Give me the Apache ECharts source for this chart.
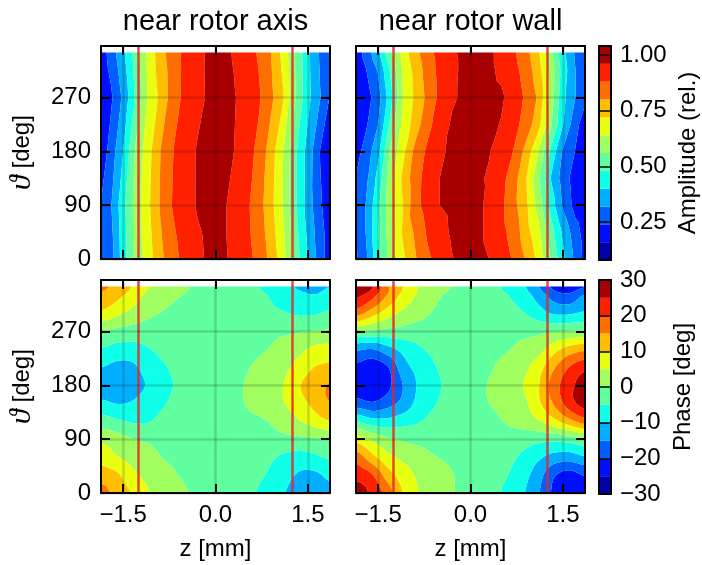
<!DOCTYPE html>
<html>
<head>
<meta charset="utf-8">
<style>html,body{margin:0;padding:0;background:#fff}#c{width:702px;height:565px}</style>
<script src="https://cdn.jsdelivr.net/npm/echarts@6/dist/echarts.min.js"></script>
</head>
<body>
<div id="c"></div>
<script>
const panelTitles = ['near rotor axis', 'near rotor wall'];
const thetaTicks = [0, 90, 180, 270];
const zTicks = [-1.5, 0, 1.5];
const rotorEdges = [-1.25, 1.25];
const ampTicks = [0.25, 0.5, 0.75, 1.0];
const phaseTicks = [-30, -20, -10, 0, 10, 20, 30];
const ampLevels = [0.08, 0.16, 0.24, 0.32, 0.40, 0.48, 0.56, 0.64, 0.72, 0.80, 0.88, 0.96, 1.04];
const phaseLevels = [-30, -25, -20, -15, -10, -5, 0, 5, 10, 15, 20, 25, 30];
const bandColors = ['#0000a8', '#0010ff', '#0060ff', '#00afff', '#10ffe8', '#60ffa0', '#a0ff5f', '#e8ff10', '#ffbf00', '#ff6f00', '#ff2000', '#a80000'];

const ampZ = [-1.85, -1.7, -1.5, -1.3, -1.1, -0.9, -0.7, -0.5, -0.3, -0.1, 0.1, 0.3, 0.5, 0.7, 0.9, 1.1, 1.3, 1.5, 1.7, 1.85];
const phaseZ = [-1.85, -1.6, -1.35, -1.1, -0.85, -0.6, -0.3, 0, 0.3, 0.6, 0.85, 1.1, 1.35, 1.6, 1.85];

const ampAxisTheta = [0, 90, 180, 270, 345];
const ampAxis = [
  [.245, .285, .44, .58, .677, .776, .853, .903, .94, .975, .975, .945, .907, .858, .776, .668, .522, .403, .276, .20],
  [.25, .314, .453, .592, .70, .806, .883, .926, .965, .985, .975, .937, .897, .835, .745, .633, .492, .364, .25, .20],
  [.19, .274, .40, .568, .686, .797, .876, .921, .965, .985, .985, .96, .915, .86, .76, .64, .492, .37, .237, .19],
  [.17, .225, .337, .489, .645, .737, .837, .90, .938, .972, .985, .965, .934, .892, .82, .725, .56, .424, .323, .24],
  [.20, .275, .384, .516, .658, .763, .844, .898, .936, .975, .98, .955, .915, .872, .80, .694, .552, .419, .309, .26]
];

const ampWallTheta = [0, 45, 90, 135, 180, 225, 270, 315, 345];
const ampWall = [
  [.23, .30, .46, .598, .704, .791, .866, .914, .957, .98, .985, .96, .918, .872, .792, .697, .56, .424, .302, .22],
  [.25, .323, .48, .60, .729, .814, .89, .935, .97, .99, .98, .942, .902, .851, .752, .663, .523, .385, .274, .21],
  [.245, .323, .464, .608, .717, .852, .913, .96, .975, .99, .98, .943, .896, .825, .737, .615, .452, .31, .21, .18],
  [.25, .298, .427, .604, .736, .848, .911, .96, .98, .99, .975, .951, .906, .837, .726, .58, .40, .285, .20, .17],
  [.21, .272, .38, .571, .695, .823, .894, .946, .975, .99, .985, .965, .924, .877, .774, .64, .469, .312, .238, .19],
  [.18, .228, .32, .501, .661, .755, .856, .92, .97, .985, .99, .98, .955, .908, .848, .752, .577, .404, .269, .20],
  [.165, .20, .288, .448, .636, .734, .82, .898, .949, .975, .99, .985, .972, .922, .868, .788, .61, .424, .322, .263],
  [.18, .235, .327, .49, .651, .745, .835, .903, .945, .975, .985, .975, .945, .906, .85, .756, .615, .444, .323, .263],
  [.19, .27, .384, .547, .671, .774, .852, .907, .95, .975, .985, .975, .937, .892, .83, .73, .583, .42, .31, .265]
];

const phaseTheta = [0, 30, 60, 90, 120, 150, 180, 210, 240, 270, 300, 330, 345];
const phaseAxis = [
  [17, 13, 9.7, 5.3, 3.1, 1.3, -1, -2, -3, -4.5, -6.7, -9.7, -12, -13, -11],
  [12.5, 10.8, 6.3, 3.7, 2, -.1, -1.5, -2, -3, -4, -5.3, -8, -10.5, -11, -9],
  [8, 5.3, 3.2, 1.6, -.2, -1.2, -2, -2, -2.5, -3.3, -4, -5.8, -7, -6, -4.3],
  [4, 2.2, .2, -.7, -1.2, -1.5, -2, -2, -2, -1.8, -1.5, -1.2, -1, -.5, .2],
  [-2.7, -4.2, -5.6, -5.4, -3.5, -2.5, -2.2, -2, -1.5, -.8, 0, 2, 4.5, 7.2, 9.8],
  [-8.8, -10.2, -9.5, -7.2, -5.5, -3.3, -2.3, -2, -1, .8, 2.3, 4.7, 8, 11.3, 14.8],
  [-13.5, -14, -12.5, -9.5, -6.7, -4.2, -2.5, -2, -1, 1, 2.8, 5, 9.5, 12.5, 15.3],
  [-10, -11.5, -11, -7.8, -5.6, -3.5, -2.5, -2, -1.5, .2, 2, 3.6, 6.8, 10, 11],
  [-5.3, -6.8, -7, -5.4, -3.8, -2.6, -2.3, -2, -1.7, -1, 0, 2.3, 3.6, 6.2, 7],
  [-.6, -1.5, -2.2, -2.3, -2.4, -2.3, -2.1, -2, -1.9, -2, -1.5, -.9, -.4, .2, .6],
  [8.9, 6, 3.4, 1, -.4, -1.5, -2, -2, -2.2, -2.8, -3.8, -4.6, -5.5, -5.5, -4.2],
  [13.6, 11.3, 7.7, 3.6, 1.8, .2, -1, -2, -3, -4, -5, -7, -8.5, -9.7, -8],
  [16, 13.4, 9.7, 5.4, 3.2, 1.2, -.8, -2, -3.2, -4.4, -5.8, -8, -10.7, -11.5, -10]
];
const phaseWall = [
  [28, 23.8, 18, 9.8, 5.1, 3, .4, -2, -3.5, -6, -9.4, -14.4, -21, -23.5, -22.5],
  [23, 20.5, 12.5, 7.6, 4.2, 2.8, .2, -2, -3.3, -4.9, -8, -12.8, -19.3, -22, -19.7],
  [17.7, 11.5, 6.5, 3.8, 2.4, .3, -1, -2, -2.7, -3.6, -6, -9, -11.8, -12.6, -10.5],
  [7.6, 3.8, .8, -.7, -1.5, -2, -2, -2, -2, -2.2, -2.7, -3.6, -3.8, -2.7, -.7],
  [-5, -8, -8.5, -7, -5.5, -3.5, -2.5, -2, -1.5, .5, 2, 4.5, 8.4, 13.1, 17.5],
  [-17.6, -19.5, -17, -13.5, -8.5, -5.5, -3, -2, 0, 1.8, 3.6, 8.9, 15.4, 22.6, 27],
  [-23.5, -24.5, -21.5, -15, -9.4, -6.1, -3.7, -2, .3, 2.7, 5, 9.5, 17.5, 23.2, 27.5],
  [-21.3, -23, -20.5, -12.2, -8.5, -5.4, -3.2, -2, -.7, 2, 3.5, 7.8, 14.3, 20.1, 23.6],
  [-14.2, -15.3, -12, -8.6, -5.8, -4, -2.8, -2, -1.6, -.4, 1.7, 3, 8, 12, 14],
  [0, -.8, -1.7, -1.8, -2.5, -2.4, -2.2, -2, -2, -1.8, -1.5, -.9, -.4, .2, 1],
  [17, 12, 7.3, 3.8, 1.8, -.4, -1.6, -2, -2.4, -3.3, -4.6, -7.5, -10.4, -10.5, -9.2],
  [26, 21.7, 14.5, 8.5, 4.2, 1.1, -1.2, -2.2, -3.4, -4.8, -7.4, -11.9, -17, -18.5, -14.5],
  [28.5, 25.5, 16, 10.1, 5, 2.7, 0, -2, -3.6, -6, -9.2, -14.4, -21.4, -23, -20.3]
];

const FONT = '"Liberation Sans", Arial, Helvetica, sans-serif';
const FS = 24;

function catmull(a, b, c, d, t) {
  return 0.5 * ((2 * b) + (c - a) * t + (2 * a - 5 * b + 4 * c - d) * t * t + (3 * b - a - 3 * c + d) * t * t * t);
}
function refine1(arr, n) {
  const out = [];
  for (let i = 0; i < arr.length - 1; i++) {
    const a = arr[Math.max(i - 1, 0)], b = arr[i], c = arr[i + 1], d = arr[Math.min(i + 2, arr.length - 1)];
    for (let k = 0; k < n; k++) out.push(catmull(a, b, c, d, k / n));
  }
  out.push(arr[arr.length - 1]);
  return out;
}
function linear1(arr, n) {
  const out = [];
  for (let i = 0; i < arr.length - 1; i++) for (let k = 0; k < n; k++) out.push(arr[i] + (arr[i + 1] - arr[i]) * k / n);
  out.push(arr[arr.length - 1]);
  return out;
}
function refineField(xs, ys, m, n) {
  if (n === 1) return { xs, ys, m };
  const rows = m.map(r => refine1(r, n));
  const nc = rows[0].length;
  const cols = [];
  for (let j = 0; j < nc; j++) cols.push(refine1(rows.map(r => r[j]), n));
  const out = cols[0].map((_, i) => cols.map(c => c[i]));
  return { xs: linear1(xs, n), ys: linear1(ys, n), m: out };
}
function clipAbove(poly, level, keepAbove) {
  const out = [];
  for (let i = 0; i < poly.length; i++) {
    const p = poly[i], q = poly[(i + 1) % poly.length];
    const pin = keepAbove ? p[2] >= level : p[2] <= level;
    const qin = keepAbove ? q[2] >= level : q[2] <= level;
    if (pin) out.push(p);
    if (pin !== qin) {
      const t = (level - p[2]) / (q[2] - p[2]);
      out.push([p[0] + (q[0] - p[0]) * t, p[1] + (q[1] - p[1]) * t, level]);
    }
  }
  return out;
}
function bandPolys(field, lo, hi) {
  const { xs, ys, m } = field, polys = [];
  for (let j = 0; j < ys.length - 1; j++) {
    for (let i = 0; i < xs.length - 1; i++) {
      const a = [xs[i], ys[j], m[j][i]], b = [xs[i + 1], ys[j], m[j][i + 1]];
      const c = [xs[i + 1], ys[j + 1], m[j + 1][i + 1]], d = [xs[i], ys[j + 1], m[j + 1][i]];
      [[a, b, c], [a, c, d]].forEach(tri => {
        let p = clipAbove(tri, lo, true);
        if (p.length) p = clipAbove(p, hi, false);
        if (p.length > 2) polys.push(p);
      });
    }
  }
  return polys;
}

function contourSeries(idx, xs, ys, m, levels, n) {
  const field = refineField(xs, ys, m, n);
  const bands = bandColors.map((c, k) => bandPolys(field, levels[k], levels[k + 1]));
  return {
    type: 'custom', coordinateSystem: 'cartesian2d', xAxisIndex: idx * 2, yAxisIndex: idx * 2,
    data: bandColors.map((c, k) => [k]), encode: { x: 0 }, silent: true, z: 1, clip: true,
    renderItem(params, api) {
      const k = params.dataIndex;
      let d = '';
      bands[k].forEach(poly => {
        poly.forEach((p, i) => {
          const c = api.coord([p[0], p[1]]);
          d += (i ? 'L' : 'M') + c[0].toFixed(2) + ' ' + c[1].toFixed(2);
        });
        d += 'Z';
      });
      return { type: 'path', shape: { pathData: d || 'M0 0Z' }, style: { fill: bandColors[k] } };
    },
    markLine: {
      silent: true, symbol: 'none', animation: false, label: { show: false }, z: 3,
      lineStyle: { color: 'rgba(225,40,40,0.85)', width: 2.5, type: 'solid' },
      data: rotorEdges.map(v => ({ xAxis: v }))
    }
  };
}
function colorbarSeries(idx, levels) {
  return {
    type: 'custom', coordinateSystem: 'cartesian2d', xAxisIndex: idx * 2, yAxisIndex: idx * 2,
    data: bandColors.map((c, k) => [k]), encode: { x: 0 }, silent: true, z: 1,
    renderItem(params, api) {
      const k = params.dataIndex;
      const a = api.coord([0, levels[k]]), b = api.coord([1, levels[k + 1]]);
      return { type: 'rect', shape: { x: a[0], y: b[1], width: b[0] - a[0], height: a[1] - b[1] }, style: { fill: bandColors[k] } };
    }
  };
}

const frame = { show: true, onZero: false, lineStyle: { color: '#000', width: 2 } };
const tickIn = { show: true, inside: true, length: 9, lineStyle: { color: '#000', width: 2 } };
const gridLine = { show: true, lineStyle: { color: 'rgba(0,0,0,0.15)', width: 2.5 } };
const grids = [], xAxes = [], yAxes = [];

function addPanel(left, top, showX, showY, title) {
  const g = grids.length;
  grids.push({ left, top, width: 229, height: 213, containLabel: false, outerBoundsMode: 'none' });
  xAxes.push({
    type: 'value', gridIndex: g, position: 'bottom', min: -1.86, max: 1.86, z: 5, axisLine: frame,
    axisTick: Object.assign({}, tickIn, { customValues: zTicks }),
    splitLine: gridLine,
    axisLabel: {
      show: showX, customValues: zTicks, margin: 10, fontSize: FS, fontFamily: FONT, color: '#000',
      formatter: v => (v < 0 ? '\u2212' : '') + Math.abs(v).toFixed(1)
    },
    name: showX ? 'z [mm]' : '', nameLocation: 'middle', nameGap: 44,
    nameTextStyle: { fontSize: FS, fontFamily: FONT, color: '#000' }
  });
  xAxes.push({
    type: 'value', gridIndex: g, position: 'top', min: -1.86, max: 1.86, z: 5, axisLine: frame,
    axisTick: Object.assign({}, tickIn, { customValues: zTicks }),
    splitLine: { show: false }, axisLabel: { show: false },
    name: title, nameLocation: 'middle', nameGap: 10,
    nameTextStyle: { fontSize: 29, fontFamily: FONT, color: '#000' }
  });
  yAxes.push({
    type: 'value', gridIndex: g, position: 'left', min: 0, max: 356, z: 5, axisLine: frame,
    axisTick: Object.assign({}, tickIn, { customValues: thetaTicks }),
    splitLine: gridLine,
    axisLabel: { show: showY, customValues: thetaTicks, margin: 10, fontSize: FS, fontFamily: FONT, color: '#000' },
    name: showY ? '{t|\u03d1}{n| [deg]}' : '', nameLocation: 'middle', nameGap: 64, nameRotate: 90,
    nameTextStyle: {
      fontSize: 24, fontFamily: FONT, color: '#000',
      rich: {
        t: { fontSize: 30, fontFamily: '"Liberation Serif"', fontStyle: 'italic', color: '#000' },
        n: { fontSize: 24, fontFamily: FONT, color: '#000' }
      }
    }
  });
  yAxes.push({
    type: 'value', gridIndex: g, position: 'right', min: 0, max: 356, z: 5, axisLine: frame,
    axisTick: Object.assign({}, tickIn, { customValues: thetaTicks }),
    splitLine: { show: false }, axisLabel: { show: false }
  });
}
function addBar(top, height, min, max, ticks, fmt, name, gap) {
  const g = grids.length;
  grids.push({ left: 599, top, width: 12, height, containLabel: false, outerBoundsMode: 'none' });
  const bare = { show: false };
  xAxes.push({ type: 'value', gridIndex: g, position: 'bottom', min: 0, max: 1, z: 5, axisLine: frame, axisTick: bare, splitLine: bare, axisLabel: bare });
  xAxes.push({ type: 'value', gridIndex: g, position: 'top', min: 0, max: 1, z: 5, axisLine: frame, axisTick: bare, splitLine: bare, axisLabel: bare });
  yAxes.push({ type: 'value', gridIndex: g, position: 'left', min, max, z: 5, axisLine: frame, axisTick: bare, splitLine: bare, axisLabel: bare });
  yAxes.push({
    type: 'value', gridIndex: g, position: 'right', min, max, z: 5, axisLine: frame,
    axisTick: { show: true, inside: true, length: 12, customValues: ticks, lineStyle: { color: '#000', width: 1.5 } },
    splitLine: bare,
    axisLabel: { show: true, customValues: ticks, margin: 9, fontSize: FS, fontFamily: FONT, color: '#000', formatter: fmt },
    name, nameLocation: 'middle', nameGap: gap, nameRotate: 90,
    nameTextStyle: { fontSize: FS, fontFamily: FONT, color: '#000' }
  });
}

addPanel(101, 46, false, true, panelTitles[0]);
addPanel(356, 46, false, false, panelTitles[1]);
addPanel(101, 280, true, true, '');
addPanel(356, 280, true, false, '');
addBar(46, 214, ampLevels[0], ampLevels[12], ampTicks, v => v.toFixed(2), 'Amplitude (rel.)', 65);
addBar(280, 214, phaseLevels[0], phaseLevels[12], phaseTicks, v => (v < 0 ? '\u2212' : '') + Math.abs(v), 'Phase [deg]', 60);

const chart = echarts.init(document.getElementById('c'), null, { renderer: 'canvas' });
chart.setOption({
  animation: false,
  backgroundColor: '#fff',
  grid: grids, xAxis: xAxes, yAxis: yAxes,
  series: [
    contourSeries(0, ampZ, ampAxisTheta, ampAxis, ampLevels, 1),
    contourSeries(1, ampZ, ampWallTheta, ampWall, ampLevels, 1),
    contourSeries(2, phaseZ, phaseTheta, phaseAxis, phaseLevels, 4),
    contourSeries(3, phaseZ, phaseTheta, phaseWall, phaseLevels, 4),
    colorbarSeries(4, ampLevels),
    colorbarSeries(5, phaseLevels)
  ]
});
</script>
</body>
</html>
